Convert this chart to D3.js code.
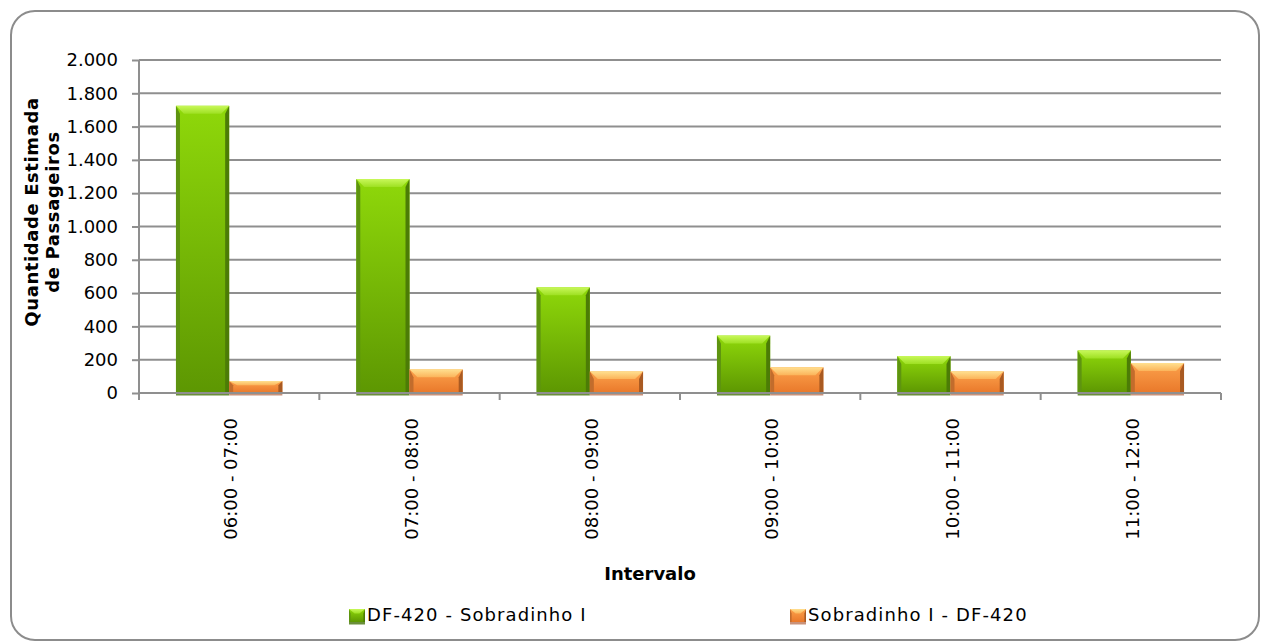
<!DOCTYPE html>
<html>
<head>
<meta charset="utf-8">
<script src="https://cdn.jsdelivr.net/npm/d3@7"></script>
<style>
  html, body { margin: 0; padding: 0; background: #fff; }
  svg { display: block; }
  text { font-family: "DejaVu Sans", sans-serif; fill: #000; }
</style>
</head>
<body>
<svg id="chart" width="1261" height="642"></svg>
<script>
const categories = ["06:00 - 07:00", "07:00 - 08:00", "08:00 - 09:00", "09:00 - 10:00", "10:00 - 11:00", "11:00 - 12:00"];
const seriesNames = ["DF-420 - Sobradinho I", "Sobradinho I - DF-420"];
const seriesA = [1725, 1285, 635, 345, 222, 256];
const seriesB = [72, 142, 130, 155, 130, 180];
const yTicks = [0, 200, 400, 600, 800, 1000, 1200, 1400, 1600, 1800, 2000];
const yTitle = ["Quantidade Estimada", "de Passageiros"];
const xTitle = "Intervalo";

const svg = d3.select("#chart");
const m = { left: 139, right: 1221, top: 60, bottom: 393 };

const fmt = d => d3.format(",")(d).replace(/,/g, ".");

const pal = [
  { main: ["#8fd80a", "#5d9702"], top: ["#c8f85a", "#9ee022"], left: "#5e9410", right: "#4c7c06", base: "#6b8f3a" },
  { main: ["#fca24c", "#e9782a"], top: ["#ffe090", "#fbb45a"], left: "#c26c2c", right: "#a95a22", base: "#c9927a" }
];

const defs = svg.append("defs");
pal.forEach((p, i) => {
  const g1 = defs.append("linearGradient").attr("id", "main" + i).attr("x1", 0).attr("y1", 0).attr("x2", 0).attr("y2", 1);
  g1.append("stop").attr("offset", "0%").attr("stop-color", p.main[0]);
  g1.append("stop").attr("offset", "100%").attr("stop-color", p.main[1]);
  const g2 = defs.append("linearGradient").attr("id", "top" + i).attr("x1", 0).attr("y1", 0).attr("x2", 0).attr("y2", 1);
  g2.append("stop").attr("offset", "0%").attr("stop-color", p.top[0]);
  g2.append("stop").attr("offset", "100%").attr("stop-color", p.top[1]);
});

// border
svg.append("rect").attr("x", 11).attr("y", 11).attr("width", 1248).attr("height", 629)
  .attr("rx", 24).attr("ry", 24).attr("fill", "#fff").attr("stroke", "#8c8c8c").attr("stroke-width", 2);

const y = d3.scaleLinear().domain([0, 2000]).range([m.bottom, m.top]);
const x0 = d3.scaleBand().domain(categories).range([m.left, m.right]).padding(0);
const gap = x0.bandwidth() * 0.41;
const x1 = d3.scaleBand().domain([0, 1]).range([gap / 2, x0.bandwidth() - gap / 2]).padding(0);

// grid
svg.append("g").selectAll("line").data(yTicks.filter(d => d > 0)).join("line")
  .attr("x1", m.left).attr("x2", m.right)
  .attr("y1", d => y(d)).attr("y2", d => y(d))
  .attr("stroke", "#8f8f8f").attr("stroke-width", 2);

// y axis
const yAxis = svg.append("g").attr("transform", `translate(${m.left},0)`)
  .call(d3.axisLeft(y).tickValues(yTicks).tickFormat(fmt).tickSize(7).tickPadding(14));
yAxis.select(".domain").attr("stroke", "#8f8f8f").attr("stroke-width", 2).attr("d", `M0,${m.top}V${m.bottom}`);
yAxis.selectAll(".tick line").attr("stroke", "#8f8f8f").attr("stroke-width", 2);
yAxis.selectAll("text").style("font-family", "DejaVu Sans").style("font-size", "18px").attr("fill", "#000");

function bevelBar(g, bx, by, bw, bh, i) {
  const p = pal[i];
  const t = Math.min(8, bh * 0.35), s = Math.min(4, bw * 0.1);
  g.append("rect").attr("x", bx).attr("y", by + bh).attr("width", bw).attr("height", 2.5).attr("fill", p.base);
  g.append("rect").attr("x", bx).attr("y", by).attr("width", bw).attr("height", bh).attr("fill", `url(#main${i})`);
  g.append("polygon").attr("points", [[bx, by], [bx + s, by + t], [bx + s, by + bh], [bx, by + bh]].map(q => q.join(",")).join(" ")).attr("fill", p.left);
  g.append("polygon").attr("points", [[bx + bw, by], [bx + bw - s, by + t], [bx + bw - s, by + bh], [bx + bw, by + bh]].map(q => q.join(",")).join(" ")).attr("fill", p.right);
  g.append("polygon").attr("points", [[bx, by], [bx + bw, by], [bx + bw - s - 4, by + t], [bx + s + 4, by + t]].map(q => q.join(",")).join(" ")).attr("fill", `url(#top${i})`);
}

const barsG = svg.append("g");
[seriesA, seriesB].forEach((vals, i) => {
  vals.forEach((v, k) => {
    const bx = x0(categories[k]) + x1(i);
    const by = y(v);
    bevelBar(barsG.append("g"), bx, by, x1.bandwidth(), y(0) - by, i);
  });
});

// x axis
const xAxis = svg.append("g").attr("transform", `translate(0,${m.bottom})`)
  .call(d3.axisBottom(x0).tickSize(0).tickPadding(0));
xAxis.select(".domain").attr("stroke", "#8f8f8f").attr("stroke-width", 2).attr("d", `M${m.left},0H${m.right}`);
xAxis.selectAll(".tick line").remove();
xAxis.selectAll("text")
  .style("font-family", "DejaVu Sans").style("font-size", "18px").attr("fill", "#000")
  .attr("text-anchor", "end").attr("dy", "0.35em")
  .attr("transform", "translate(2,25) rotate(-90)").attr("x", 0).attr("y", 0);
svg.append("g").selectAll("line").data(categories.map(c => x0(c)).concat([m.right])).join("line")
  .attr("x1", d => d).attr("x2", d => d).attr("y1", m.bottom).attr("y2", m.bottom + 7)
  .attr("stroke", "#8f8f8f").attr("stroke-width", 2);

// titles
svg.append("text").attr("x", 650).attr("y", 580).attr("text-anchor", "middle")
  .style("font-size", "18px").style("font-weight", "bold").text(xTitle);

const yt = svg.append("text").attr("transform", "translate(43,212) rotate(-90)").attr("text-anchor", "middle")
  .style("font-size", "18px").style("font-weight", "bold").style("letter-spacing", "0.6px");
yTitle.forEach((l, i) => yt.append("tspan").attr("x", 0).attr("dy", i === 0 ? "-0.3em" : "1.2em").text(l));

// legend
const legX = [349, 790];
seriesNames.forEach((n, i) => {
  const g = svg.append("g");
  bevelBar(g, legX[i], 609, 16, 13, i);
  g.append("text").attr("x", legX[i] + 18).attr("y", 621)
    .style("font-size", "18px").style("letter-spacing", "1.1px").text(n);
});
</script>
</body>
</html>
